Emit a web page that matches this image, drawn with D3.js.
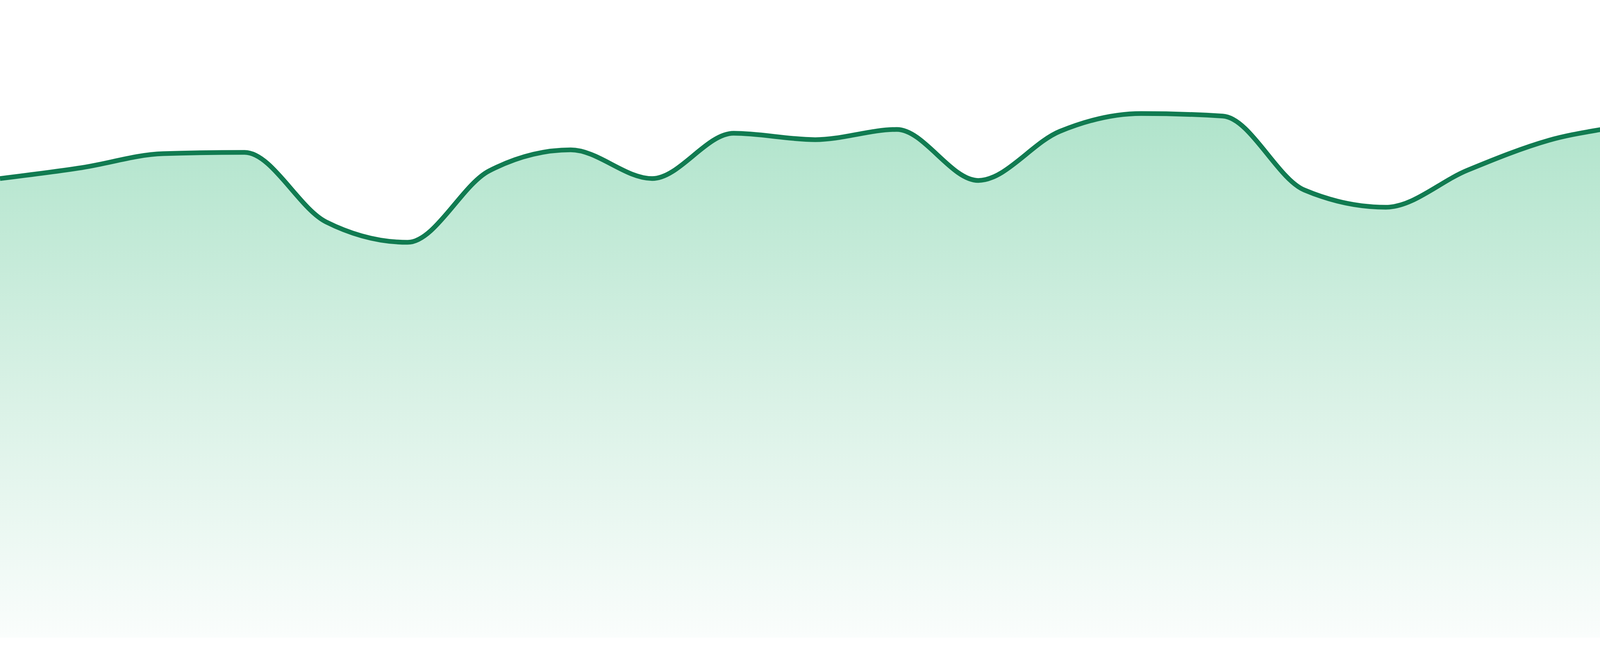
<!DOCTYPE html>
<html>
<head>
<meta charset="utf-8">
<title>Area trend</title>
<script src="https://cdn.jsdelivr.net/npm/d3@7"></script>
<style>
  html, body { margin: 0; padding: 0; background: #ffffff; }
  svg { display: block; }
</style>
</head>
<body>
<div id="chart"></div>
<script>
// sample positions along x (evenly spaced)
const slots = [0, 1, 2, 3, 4, 5, 6, 7, 8, 9, 10, 11, 12, 13, 14, 15, 16, 17, 18, 19, 20, 21, 22, 23];
// series values (0..100 scale)
const values = [72.0, 73.7, 75.9, 76.1, 65.2, 62.0, 73.2, 76.5, 72.0, 79.1, 78.1, 79.7,
                71.7, 79.4, 82.2, 81.8, 70.2, 67.5, 73.3, 78.0, 80.6, 84.0, 86.3, 87.6];
const yDomain = [0, 100];

const width = 4800, height = 1680;
const baseY = 1633;

const data = slots.map((s, i) => ({ s, v: values[i] }));

const svg = d3.select("#chart").append("svg")
  .attr("width", width).attr("height", height);

const x = d3.scaleLinear().domain([slots[0], slots[slots.length - 1]]).range([0, width]);
const y = d3.scaleLinear().domain(yDomain).range([baseY, 0]);

// vertical fade under the line
const grad = svg.append("defs").append("linearGradient")
  .attr("id", "fade").attr("gradientUnits", "userSpaceOnUse")
  .attr("x1", 0).attr("x2", 0)
  .attr("y1", y(d3.max(values))).attr("y2", baseY);
grad.append("stop").attr("offset", "0%").attr("stop-color", "#abe2c8");
grad.append("stop").attr("offset", "55%").attr("stop-color", "#d8f1e5");
grad.append("stop").attr("offset", "100%").attr("stop-color", "#fafdfc");

const area = d3.area()
  .x(d => x(d.s)).y0(y(0)).y1(d => y(d.v))
  .curve(d3.curveMonotoneX);

const line = d3.line()
  .x(d => x(d.s)).y(d => y(d.v))
  .curve(d3.curveMonotoneX);

svg.append("path").datum(data)
  .attr("d", area)
  .attr("fill", "url(#fade)");

svg.append("path").datum(data)
  .attr("d", line)
  .attr("fill", "none")
  .attr("stroke", "#117b51")
  .attr("stroke-width", 12)
  .attr("stroke-linejoin", "round");
</script>
</body>
</html>
